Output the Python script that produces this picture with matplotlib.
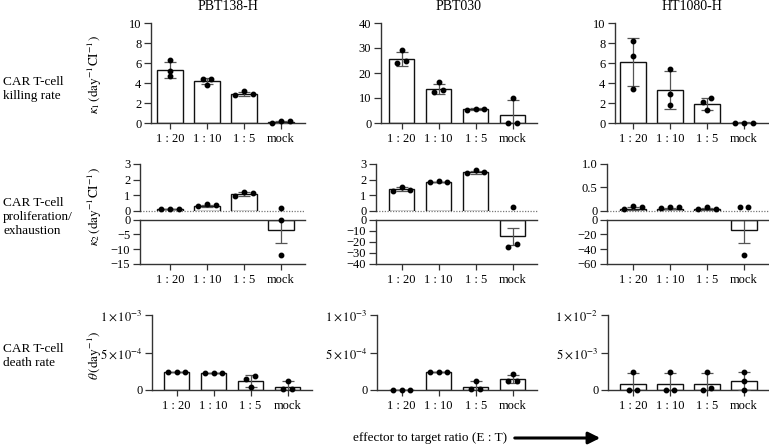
import matplotlib
matplotlib.use('Agg')
import matplotlib.pyplot as plt
from matplotlib.patches import FancyArrowPatch
import numpy as np

plt.rcParams['font.family'] = ['Liberation Serif', 'DejaVu Serif']
plt.rcParams['mathtext.fontset'] = 'stix'
plt.rcParams['axes.unicode_minus'] = True

# ---------------- data ----------------
categories = ['1 : 20', '1 : 10', '1 : 5', 'mock']
cell_lines = ['PBT138-H', 'PBT030', 'HT1080-H']
row_labels = ['CAR T-cell\nkilling rate', 'CAR T-cell\nproliferation/\nexhaustion', 'CAR T-cell\ndeath rate']

# kappa_1 (killing rate)
k1_mean = [[5.33, 4.17, 2.90, 0.15], [25.6, 13.6, 5.6, 3.1], [6.07, 3.33, 1.87, 0.05]]
k1_err = [[0.8, 0.3, 0.2, 0.1], [2.9, 2.0, 0.3, 6.2], [2.4, 1.9, 0.6, 0.03]]
k1_pts = [
    [[6.27, 5.17, 4.67], [4.43, 4.43, 3.83], [2.83, 3.23, 2.93], [0.0, 0.23, 0.17]],
    [[29.3, 24.0, 24.7], [16.3, 12.3, 13.3], [5.3, 5.7, 5.65], [9.9, 0.0, 0.0]],
    [[8.17, 6.67, 3.43], [5.43, 2.93, 1.80], [2.10, 2.47, 1.27], [0.02, 0.05, 0.03]],
]
k1_ticks = [[0, 2, 4, 6, 8, 10], [0, 10, 20, 30, 40], [0, 2, 4, 6, 8, 10]]

# kappa_2 (proliferation / exhaustion), broken axis
k2_mean = [[0.08, 0.30, 1.06, -3.6], [1.36, 1.84, 2.48, -14.9], [0.036, 0.043, 0.036, -14.8]]
k2_err = [[0.01, 0.06, 0.12, 4.2], [0.13, 0.02, 0.10, 7.7], [0.03, 0.015, 0.017, 17.5]]
k2_pts = [
    [[0.08, 0.08, 0.08], [0.28, 0.41, 0.37], [0.95, 1.19, 1.12], [0.15, -0.2, -12.0]],
    [[1.27, 1.53, 1.32], [1.84, 1.88, 1.85], [2.40, 2.61, 2.50], [0.22, -24.5, -22.0]],
    [[0.03, 0.09, 0.065], [0.05, 0.08, 0.065], [0.043, 0.072, 0.043], [0.065, 0.08, -48.4]],
]
k2_upper_ticks = [[0, 1, 2, 3], [0, 1, 2, 3], [0, 0.5, 1.0]]
k2_upper_labels = [['0', '1', '2', '3'], ['0', '1', '2', '3'], ['0', '0.5', '1.0']]
k2_lower_ticks = [[0, -5, -10, -15], [0, -10, -20, -30, -40], [0, -20, -40, -60]]

# theta (death rate)
th_mean = [[2.36e-4, 2.27e-4, 1.24e-4, 0.36e-4], [0.0, 2.40e-4, 0.44e-4, 1.42e-4], [0.76e-3, 0.76e-3, 0.80e-3, 1.20e-3]]
th_err = [[0.02e-4, 0.02e-4, 0.80e-4, 0.84e-4], [0.0, 0.02e-4, 0.76e-4, 0.54e-4], [1.46e-3, 1.46e-3, 1.42e-3, 1.24e-3]]
th_pts = [
    [[2.44e-4, 2.44e-4, 2.44e-4], [2.31e-4, 2.31e-4, 2.31e-4], [1.47e-4, 1.87e-4, 0.44e-4], [1.2e-4, 0.09e-4, 0.09e-4]],
    [[0.0, 0.0, 0.0], [2.44e-4, 2.44e-4, 2.44e-4], [1.2e-4, 0.18e-4, 0.18e-4], [2.13e-4, 1.2e-4, 1.2e-4]],
    [[2.44e-3, 0.0, 0.0], [2.44e-3, 0.0, 0.0], [2.44e-3, 0.0, 0.22e-3], [2.44e-3, 1.2e-3, 0.0]],
]
th_ticks = [[0, 5e-4, 1e-3], [0, 5e-4, 1e-3], [0, 5e-3, 1e-2]]
th_tick_labels = [['0', r'$5\times10^{-4}$', r'$1\times10^{-3}$'],
                  ['0', r'$5\times10^{-4}$', r'$1\times10^{-3}$'],
                  ['0', r'$5\times10^{-3}$', r'$1\times10^{-2}$']]

# ---------------- layout ----------------
W, H = 769, 446
fig = plt.figure(figsize=(W / 100, H / 100), dpi=100)
S = 37.0          # px per category
RPAD = 24.0
FS = 9
SPINE = '#333333'

def make_ax(L, C0, T, B):
    R = C0 + 3 * S + RPAD
    ax = fig.add_axes([L / W, 1 - B / H, (R - L) / W, (B - T) / H])
    ax.set_xlim(-(C0 - L) / S, (R - C0) / S)
    for s in ['top', 'right']:
        ax.spines[s].set_visible(False)
    for s in ['left', 'bottom']:
        ax.spines[s].set_color(SPINE)
        ax.spines[s].set_linewidth(1.0)
    ax.tick_params(axis='y', direction='out', length=5, width=0.9, pad=2, labelsize=FS, color=SPINE)
    ax.tick_params(axis='x', direction='out', length=4, width=0.9, pad=3, labelsize=FS, color=SPINE)
    return ax

def point_offsets(ax, vals, thr=4.5):
    vals = np.asarray(vals, dtype=float)
    pix = ax.transData.transform(np.c_[np.zeros_like(vals), vals])[:, 1]
    order = np.argsort(vals, kind='stable')
    groups, cur = [], [order[0]]
    for a, b in zip(order[:-1], order[1:]):
        if abs(pix[b] - pix[a]) < thr:
            cur.append(b)
        else:
            groups.append(cur)
            cur = [b]
    groups.append(cur)
    off = np.zeros(len(vals))
    for g in groups:
        if len(g) == 2:
            off[g[0]], off[g[1]] = -0.12, 0.12
        elif len(g) >= 3:
            # lowest left, highest centre, middle right
            off[g[0]], off[g[-1]], off[g[1]] = -0.23, 0.0, 0.23
    return off

def draw_bars(ax, means, errs, pts, sel=None):
    x = np.arange(len(means))
    for i in x:
        m, e = means[i], errs[i]
        if sel is not None and not sel(m):
            continue
        ax.bar(i, m, width=0.68, color='white', edgecolor='#111111', linewidth=1.0, zorder=2)
        ax.errorbar(i, m, yerr=e, fmt='none', ecolor='#555555', elinewidth=0.9,
                    capsize=4, capthick=0.9, zorder=3)
    for i in x:
        p = [v for v in pts[i] if sel is None or sel(v)]
        if not p:
            continue
        off = point_offsets(ax, p)
        ax.plot(i + off, p, 'o', color='black', markersize=3.2, zorder=5, clip_on=False)

# column geometry (px)
C0_top = [170, 401.7, 633]
C0_bot = [176.5, 401.7, 633]
L_top = [151, 381, 615]
L_mid = [140, 376, 607]
L_bot = [152, 377, 608]

for c in range(3):
    # ---- top row ----
    ax = make_ax(L_top[c], C0_top[c], 23, 123)
    ax.set_ylim(0, k1_ticks[c][-1])
    ax.set_yticks(k1_ticks[c])
    ax.set_yticklabels([str(t) for t in k1_ticks[c]])
    ax.set_xticks(range(4))
    ax.set_xticklabels(categories)
    draw_bars(ax, k1_mean[c], k1_err[c], k1_pts[c])
    ax.set_title(cell_lines[c], fontsize=10, pad=9)

    # ---- middle row: upper ----
    axu = make_ax(L_mid[c], C0_top[c], 164, 210.5)
    axu.set_ylim(0, k2_upper_ticks[c][-1])
    axu.set_yticks(k2_upper_ticks[c])
    axu.set_yticklabels(k2_upper_labels[c])
    axu.spines['bottom'].set_visible(False)
    axu.set_xticks([])
    axu.axhline(0, color='#777777', lw=0.9, ls=(0, (1, 1.2)), zorder=1, clip_on=False)
    draw_bars(axu, k2_mean[c], k2_err[c], k2_pts[c], sel=lambda v: v >= 0)

    # ---- middle row: lower ----
    axl = make_ax(L_mid[c], C0_top[c], 219.5, 264)
    lo = k2_lower_ticks[c]
    axl.set_ylim(lo[-1], 0)
    axl.set_yticks(lo)
    axl.set_yticklabels(['0'] + ['\u2212' + str(abs(t)) for t in lo[1:]])
    axl.set_xticks(range(4))
    axl.set_xticklabels(categories)
    axl.axhline(0, color=SPINE, lw=1.0, zorder=4, clip_on=False)
    draw_bars(axl, k2_mean[c], k2_err[c], k2_pts[c], sel=lambda v: v < 0)

    # ---- bottom row ----
    axb = make_ax(L_bot[c], C0_bot[c], 315, 390)
    axb.set_ylim(0, th_ticks[c][-1])
    axb.set_yticks(th_ticks[c])
    axb.set_yticklabels(th_tick_labels[c])
    axb.set_xticks(range(4))
    axb.set_xticklabels(categories)
    draw_bars(axb, th_mean[c], th_err[c], th_pts[c])

# row labels
for txt, y in zip(row_labels, [89, 217, 356]):
    fig.text(3 / W, 1 - y / H, txt, ha='left', va='center', fontsize=9.5, linespacing=1.25)

# y-axis labels
fig.text(95 / W, 1 - 75 / H, r'$\kappa_1\,(\mathrm{day}^{-1}\mathrm{CI}^{-1})$', rotation=90,
         ha='center', va='center', fontsize=9.5)
fig.text(95 / W, 1 - 207 / H, r'$\kappa_2\,(\mathrm{day}^{-1}\mathrm{CI}^{-1})$', rotation=90,
         ha='center', va='center', fontsize=9.5)
fig.text(95 / W, 1 - 355 / H, r'$\theta\,(\mathrm{day}^{-1})$', rotation=90,
         ha='center', va='center', fontsize=9.5)

# bottom annotation with arrow
fig.text(430 / W, 1 - 438 / H, 'effector to target ratio (E : T)', ha='center', va='center', fontsize=9.5)
arrow = FancyArrowPatch((512 / W, 1 - 438 / H), (603 / W, 1 - 438 / H), transform=fig.transFigure,
                        arrowstyle='-|>,head_length=0.7,head_width=0.35', mutation_scale=10,
                        lw=2.2, color='black')
fig.add_artist(arrow)

fig.savefig('out.png', dpi=100)
